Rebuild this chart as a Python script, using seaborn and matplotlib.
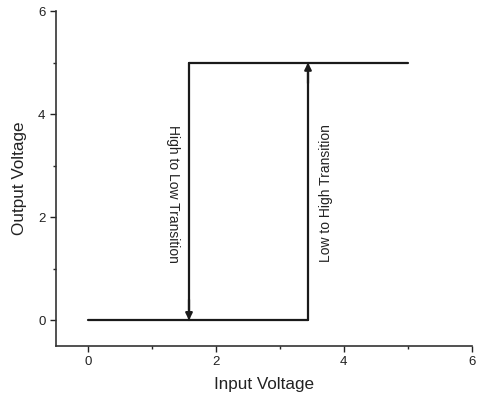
import matplotlib
matplotlib.use("Agg")
import matplotlib.pyplot as plt
import seaborn as sns
import pandas as pd
from matplotlib.ticker import MultipleLocator

# Hysteresis loop data (input voltage, output voltage)
v_low_high = 3.44   # low to high threshold
v_high_low = 1.58   # high to low threshold
v_in_max = 5.0
v_out_low = 0.0
v_out_high = 5.0

low_branch_x = [0.0, v_low_high]
low_branch_y = [v_out_low, v_out_low]
high_branch_x = [v_high_low, v_in_max]
high_branch_y = [v_out_high, v_out_high]
rise_x = [v_low_high, v_low_high]
rise_y = [v_out_low, v_out_high]
fall_x = [v_high_low, v_high_low]
fall_y = [v_out_high, v_out_low]

sns.set_style("ticks")
plt.rcParams['font.family'] = ['Liberation Sans', 'DejaVu Sans']

fig = plt.figure(figsize=(4.78, 3.99), dpi=100)
ax = fig.add_axes([0.117, 0.133, 0.870, 0.839])

lw = 1.6
for xs, ys in [(low_branch_x, low_branch_y), (high_branch_x, high_branch_y),
               (rise_x, rise_y), (fall_x, fall_y)]:
    df = pd.DataFrame({'x': xs, 'y': ys})
    sns.lineplot(data=df, x='x', y='y', sort=False, estimator=None,
                 color='#1a1a1a', lw=lw, ax=ax)

# arrow heads
ax.annotate('', xy=(v_low_high, v_out_high), xytext=(v_low_high, v_out_high - 0.4),
            arrowprops=dict(arrowstyle='-|>', color='#1a1a1a', lw=lw,
                            mutation_scale=10, shrinkA=0, shrinkB=0))
ax.annotate('', xy=(v_high_low, v_out_low), xytext=(v_high_low, v_out_low + 0.4),
            arrowprops=dict(arrowstyle='-|>', color='#1a1a1a', lw=lw,
                            mutation_scale=10, shrinkA=0, shrinkB=0))

ax.text(v_high_low - 0.25, 2.45, 'High to Low Transition', rotation=270,
        ha='center', va='center', fontsize=10, color='#222222')
ax.text(v_low_high + 0.28, 2.47, 'Low to High Transition', rotation=90,
        ha='center', va='center', fontsize=10, color='#222222')

ax.set_xlim(-0.5, 6)
ax.set_ylim(-0.5, 6)
ax.xaxis.set_major_locator(MultipleLocator(2))
ax.xaxis.set_minor_locator(MultipleLocator(1))
ax.yaxis.set_major_locator(MultipleLocator(2))
ax.yaxis.set_minor_locator(MultipleLocator(1))
ax.tick_params(which='major', direction='out', length=4, width=1, labelsize=9.5,
               colors='#222222')
ax.tick_params(which='minor', direction='out', length=2.5, width=1)
ax.set_xlabel('Input Voltage', fontsize=12.3, color='#222222', labelpad=6)
ax.set_ylabel('Output Voltage', fontsize=12.3, color='#222222', labelpad=8)
for s in ['left', 'bottom']:
    ax.spines[s].set_linewidth(1.2)
    ax.spines[s].set_color('#333333')
sns.despine(ax=ax)

fig.savefig('out.png', dpi=100)
